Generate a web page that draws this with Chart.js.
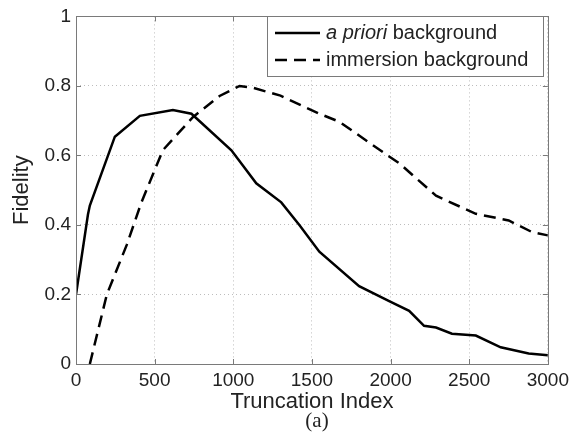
<!DOCTYPE html>
<html>
<head>
<meta charset="utf-8">
<script src="https://cdn.jsdelivr.net/npm/chart.js@4"></script>
<style>
  html, body { margin: 0; padding: 0; background: #fff; }
  #wrap { width: 574px; height: 445px; }
</style>
</head>
<body>
<div id="wrap"><canvas id="chart" width="574" height="445"></canvas></div>
<script>
// values
const aprioriX = [0, 76, 88, 247, 406, 616, 734, 988, 1146, 1305, 1420, 1547, 1800, 1991, 2118, 2213, 2289, 2390, 2542, 2700, 2878, 3000];
const aprioriY = [0.2, 0.43, 0.456, 0.654, 0.714, 0.731, 0.72, 0.615, 0.52, 0.465, 0.4, 0.323, 0.224, 0.181, 0.153, 0.11, 0.105, 0.087, 0.082, 0.048, 0.03, 0.025];
const immersionX = [88, 196, 322, 416, 552, 743, 913, 1040, 1123, 1300, 1547, 1674, 1991, 2054, 2289, 2542, 2751, 2897, 3000];
const immersionY = [0, 0.2, 0.342, 0.465, 0.615, 0.71, 0.771, 0.8, 0.795, 0.772, 0.72, 0.697, 0.597, 0.578, 0.484, 0.432, 0.413, 0.38, 0.37];
const xTicks = [0, 500, 1000, 1500, 2000, 2500, 3000];
const yTicks = [0, 0.2, 0.4, 0.6, 0.8, 1];

const font = "'Liberation Sans', Arial, Helvetica, sans-serif";
const textColor = '#222';

function toPoints(xs, ys) {
    return xs.map((x, i) => ({ x: x, y: ys[i] }));
}

// MATLAB-like box, inward ticks, legend and the "(a)" caption
const decorPlugin = {
    id: 'decor',
    afterDatasetsDraw(chart) {
        const ctx = chart.ctx;
        const a = chart.chartArea;
        const xs = chart.scales.x, ys = chart.scales.y;
        ctx.save();
        ctx.strokeStyle = '#7a7a7a';
        ctx.lineWidth = 1;
        ctx.beginPath();
        xTicks.forEach(t => {
            const px = Math.round(xs.getPixelForValue(t)) + 0.5;
            ctx.moveTo(px, a.bottom); ctx.lineTo(px, a.bottom - 5);
            ctx.moveTo(px, a.top); ctx.lineTo(px, a.top + 5);
        });
        yTicks.forEach(t => {
            const py = Math.round(ys.getPixelForValue(t)) + 0.5;
            ctx.moveTo(a.left, py); ctx.lineTo(a.left + 5, py);
            ctx.moveTo(a.right, py); ctx.lineTo(a.right - 5, py);
        });
        ctx.stroke();
        ctx.strokeRect(Math.round(a.left) + 0.5, Math.round(a.top) + 0.5,
            Math.round(a.right - a.left), Math.round(a.bottom - a.top));

        // legend
        const bx = 267, by = 16, bw = 276, bh = 60;
        ctx.fillStyle = '#fff';
        ctx.fillRect(bx, by, bw, bh);
        ctx.strokeStyle = '#7a7a7a';
        ctx.strokeRect(bx + 0.5, by + 0.5, bw, bh);
        const rows = [33, 60];
        chart.data.datasets.forEach((ds, i) => {
            const y = rows[i];
            ctx.strokeStyle = ds.borderColor;
            ctx.lineWidth = ds.borderWidth;
            ctx.setLineDash(ds.borderDash || []);
            ctx.beginPath();
            ctx.moveTo(275, y);
            ctx.lineTo(320, y);
            ctx.stroke();
            ctx.setLineDash([]);
        });
        ctx.fillStyle = textColor;
        ctx.textBaseline = 'middle';
        ctx.textAlign = 'left';
        ctx.font = 'italic 20px ' + font;
        ctx.fillText('a priori', 326, rows[0]);
        const w = ctx.measureText('a priori ').width;
        ctx.font = '20px ' + font;
        ctx.fillText('background', 326 + w, rows[0]);
        ctx.fillText('immersion background', 326, rows[1]);

        // caption
        ctx.font = "21px 'Liberation Serif', 'Times New Roman', serif";
        ctx.textAlign = 'center';
        ctx.fillText('(a)', 317, 421);
        ctx.restore();
    }
};

const ctx = document.getElementById('chart').getContext('2d');
new Chart(ctx, {
    type: 'line',
    data: {
        datasets: [{
            label: 'a priori background',
            data: toPoints(aprioriX, aprioriY),
            borderColor: '#000',
            borderWidth: 2.5,
            pointRadius: 0,
            tension: 0,
            fill: false
        }, {
            label: 'immersion background',
            data: toPoints(immersionX, immersionY),
            borderColor: '#000',
            borderWidth: 2.5,
            borderDash: [12, 7],
            pointRadius: 0,
            tension: 0,
            fill: false
        }]
    },
    options: {
        responsive: false,
        animation: false,
        layout: { padding: { left: 9, right: 25, top: 11, bottom: 28 } },
        plugins: {
            legend: { display: false },
            tooltip: { enabled: false }
        },
        scales: {
            x: {
                type: 'linear',
                min: 0, max: 3000,
                afterBuildTicks: s => { s.ticks = xTicks.map(v => ({ value: v })); },
                afterFit: s => { s.height = 53; },
                grid: { color: '#bdbdbd', drawTicks: false },
                border: { display: false, dash: [1, 3] },
                ticks: { color: textColor, font: { family: font, size: 19 }, padding: 5, maxRotation: 0,
                         callback: v => String(v) },
                title: { display: true, text: 'Truncation Index', color: textColor,
                         font: { family: font, size: 22 }, padding: { top: 0, bottom: 2 } }
            },
            y: {
                type: 'linear',
                min: 0, max: 1,
                afterBuildTicks: s => { s.ticks = yTicks.map(v => ({ value: v })); },
                afterFit: s => { s.width = 67; },
                grid: { color: '#bdbdbd', drawTicks: false },
                border: { display: false, dash: [1, 3] },
                ticks: { color: textColor, font: { family: font, size: 19 }, padding: 5,
                         callback: v => String(v) },
                title: { display: true, text: 'Fidelity', color: textColor,
                         font: { family: font, size: 22 }, padding: { top: 0, bottom: 0 } }
            }
        }
    },
    plugins: [decorPlugin]
});
</script>
</body>
</html>
